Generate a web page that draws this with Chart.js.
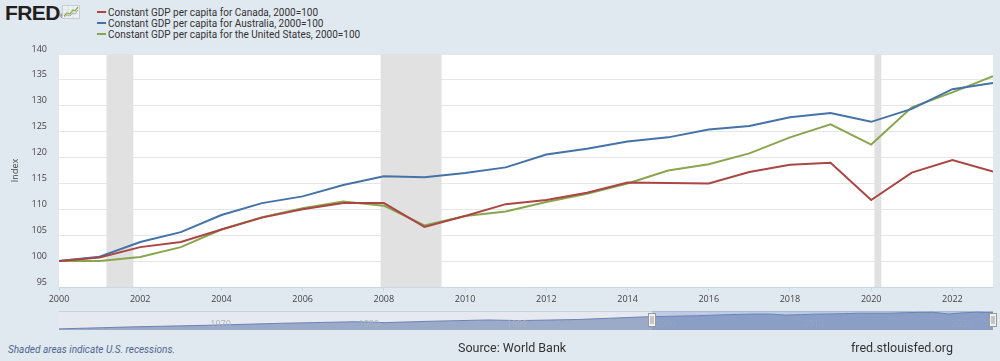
<!DOCTYPE html>
<html lang="en">
  <head>
    <meta charset="utf-8" />
    <title>FRED GDP per capita</title>
    <style>
      * {
        margin: 0;
        padding: 0;
      }
      body {
        width: 1000px;
        height: 361px;
        overflow: hidden;
        background: #e1e9f0;
        position: relative;
        font-family: "Open Sans", sans-serif;
      }
      #logo {
        position: absolute;
        left: 5px;
        top: 1px;
        font-family: "Liberation Sans", sans-serif;
        font-weight: bold;
        font-size: 21px;
        letter-spacing: -0.6px;
        color: #231f20;
      }
      #logo sup {
        font-size: 5px;
        font-weight: normal;
        vertical-align: 2px;
      }
      #logoIcon {
        position: absolute;
        left: 62px;
        top: 5px;
      }
      #legend {
        position: absolute;
        left: 97px;
        top: 7px;
        font-family: Roboto, sans-serif;
        font-size: 10px;
        color: #333;
      }
      #legend div {
        height: 11px;
        line-height: 11px;
        white-space: nowrap;
      }
      #legend span.swatch {
        display: inline-block;
        width: 9px;
        height: 2px;
        margin-right: 2px;
        vertical-align: 3px;
      }
      canvas {
        position: absolute;
        left: 0;
      }
      #myChart {
        top: 0;
      }
      #navChart {
        top: 300px;
      }
      .note {
        position: absolute;
        left: 8px;
        top: 344px;
        font-family: Roboto, sans-serif;
        font-style: italic;
        font-size: 10px;
        color: #4f6592;
      }
      .source {
        position: absolute;
        left: 458px;
        top: 340px;
        font-family: Roboto, sans-serif;
        font-size: 12.5px;
        color: #333;
      }
      .site {
        position: absolute;
        left: 851px;
        top: 340px;
        font-family: Roboto, sans-serif;
        font-size: 12.5px;
        color: #333;
      }
    </style>
  </head>
  <body>
    <div id="logo">FRED<sup>®</sup></div>
    <svg id="logoIcon" width="18" height="14" viewBox="0 0 18 14">
      <rect x="0.5" y="0.5" width="17" height="13" fill="#eef0f2" stroke="#c9ccd0" />
      <path d="M1 5h16M1 9h16M6 1v12M11 1v12" stroke="#d6d9dd" stroke-width="0.6" />
      <polyline points="2,11 5,8 8,9 11,5 13,6 16,2" fill="none" stroke="#8bb04b" stroke-width="1.3" />
      <polyline points="2,12 5,10 8,11 11,8 13,9 16,5" fill="none" stroke="#a9adb2" stroke-width="1" />
    </svg>
    <div id="legend"></div>

    <canvas id="myChart" width="1000" height="305"></canvas>
    <canvas id="navChart" width="1000" height="40"></canvas>

    <div class="note">Shaded areas indicate U.S. recessions.</div>
    <div class="source">Source: World Bank</div>
    <div class="site">fred.stlouisfed.org</div>

    <script src="https://cdn.jsdelivr.net/npm/chart.js"></script>
    <script>
      // data block
      const years = [
        2000, 2001, 2002, 2003, 2004, 2005, 2006, 2007, 2008, 2009, 2010, 2011,
        2012, 2013, 2014, 2015, 2016, 2017, 2018, 2019, 2020, 2021, 2022, 2023,
      ];
      const canada = [
        100, 100.7, 102.7, 103.7, 106.1, 108.4, 110.0, 111.2, 111.2, 106.6,
        108.7, 111.0, 111.8, 113.2, 115.2, 115.1, 115.0, 117.2, 118.6, 119.0,
        111.8, 117.1, 119.5, 117.3,
      ];
      const australia = [
        100, 100.85, 103.7, 105.6, 108.9, 111.2, 112.5, 114.7, 116.4, 116.2,
        117.0, 118.1, 120.6, 121.7, 123.1, 123.9, 125.4, 126.1, 127.8, 128.6,
        126.9, 129.4, 133.2, 134.4,
      ];
      const unitedStates = [
        100, 100.0, 100.8, 102.7, 106.1, 108.5, 110.2, 111.5, 110.7, 106.9,
        108.7, 109.6, 111.4, 113.0, 115.0, 117.5, 118.7, 120.8, 123.9, 126.4,
        122.5, 129.7, 132.6, 135.7,
      ];
      const seriesNames = [
        "Constant GDP per capita for Canada, 2000=100",
        "Constant GDP per capita for Australia, 2000=100",
        "Constant GDP per capita for the United States, 2000=100",
      ];
      const seriesColors = ["#aa4643", "#4572a7", "#89a54e"];

      // US recessions (decimal years)
      const recessionStarts = [2001.17, 2007.92, 2020.08];
      const recessionEnds = [2001.83, 2009.42, 2020.25];

      // navigator (long history, earlier years)
      const navEarlyYears = [1960, 1965, 1970, 1975, 1980, 1982, 1985, 1989, 1991, 1995];
      const navEarlyValues = [45, 54, 61, 70, 77, 73, 79, 85, 82, 87];
      const navLabelYears = [1970, 1980, 1990, 2000, 2010, 2020];

      const toPoints = (xs, ys) => xs.map((x, i) => ({ x: x, y: ys[i] }));

      // plugins
      const plotBackground = {
        id: "plotBackground",
        beforeDraw(chart) {
          const { ctx, chartArea: a } = chart;
          ctx.save();
          ctx.fillStyle = "#ffffff";
          ctx.fillRect(a.left, a.top, a.right - a.left, a.bottom - a.top);
          ctx.restore();
        },
      };

      const recessionBands = {
        id: "recessionBands",
        beforeDatasetsDraw(chart) {
          const {
            ctx,
            chartArea: a,
            scales: { x },
          } = chart;
          ctx.save();
          ctx.fillStyle = "#e1e1e1";
          for (let i = 0; i < recessionStarts.length; i++) {
            const x0 = x.getPixelForValue(recessionStarts[i]);
            const x1 = x.getPixelForValue(recessionEnds[i]);
            ctx.fillRect(x0, a.top, x1 - x0, a.bottom - a.top);
          }
          ctx.restore();
        },
      };

      const tickFont = { family: "'Open Sans', sans-serif", size: 9 };

      const config = {
        type: "line",
        data: {
          datasets: [canada, australia, unitedStates].map((vals, i) => ({
            label: seriesNames[i],
            data: toPoints(years, vals),
            borderColor: seriesColors[i],
            backgroundColor: seriesColors[i],
            borderWidth: 2,
            pointRadius: 0,
            tension: 0,
          })),
        },
        options: {
          responsive: false,
          animation: false,
          devicePixelRatio: 1,
          layout: { padding: { top: 54, right: 7, left: 0, bottom: 0 } },
          plugins: {
            legend: { display: false },
            tooltip: { enabled: false },
          },
          scales: {
            x: {
              type: "linear",
              min: 2000,
              max: 2023,
              afterFit: (scale) => {
                scale.height = 18;
              },
              ticks: {
                stepSize: 2,
                includeBounds: false,
                maxRotation: 0,
                padding: 3,
                color: "#444",
                font: tickFont,
                callback: (v) => String(v),
              },
              grid: {
                drawOnChartArea: false,
                drawTicks: true,
                tickLength: 4,
                color: "#ccd6eb",
              },
              border: { color: "#ccd6eb" },
            },
            y: {
              min: 95,
              max: 140,
              afterFit: (scale) => {
                scale.width = 59;
              },
              ticks: {
                stepSize: 5,
                padding: 12,
                labelOffset: -5,
                color: "#444",
                font: tickFont,
              },
              grid: { color: "#e6e6e6", drawTicks: false },
              border: { display: false },
              title: {
                display: true,
                text: "Index",
                color: "#444",
                font: tickFont,
                padding: { top: 10, bottom: 0 },
              },
            },
          },
        },
        plugins: [plotBackground, recessionBands],
      };

      const myChart = new Chart(document.getElementById("myChart"), config);

      // html legend built from the datasets
      const legendBox = document.getElementById("legend");
      myChart.data.datasets.forEach((ds) => {
        const row = document.createElement("div");
        const sw = document.createElement("span");
        sw.className = "swatch";
        sw.style.background = ds.borderColor;
        row.appendChild(sw);
        row.appendChild(document.createTextNode(ds.label));
        legendBox.appendChild(row);
      });

      // navigator
      const navPlugin = {
        id: "navPlugin",
        beforeDatasetsDraw(chart) {
          const { ctx, chartArea: a } = chart;
          ctx.save();
          ctx.fillStyle = "#e6eaf0";
          ctx.fillRect(a.left, a.top, a.right - a.left, a.bottom - a.top);
          ctx.strokeStyle = "#c8d0dc";
          ctx.lineWidth = 1;
          ctx.beginPath();
          ctx.moveTo(a.left, a.top + 0.5);
          ctx.lineTo(a.right, a.top + 0.5);
          ctx.stroke();
          ctx.restore();
        },
        afterDatasetsDraw(chart) {
          const {
            ctx,
            chartArea: a,
            scales: { x },
          } = chart;
          ctx.save();
          // labels
          ctx.fillStyle = "#a9b2c0";
          ctx.font = "9px 'Open Sans', sans-serif";
          ctx.textBaseline = "middle";
          navLabelYears.forEach((yr) => {
            ctx.fillText(String(yr), x.getPixelForValue(yr) + 3, a.top + 13);
          });
          // selected range mask
          const s0 = x.getPixelForValue(years[0]);
          const s1 = x.getPixelForValue(years[years.length - 1]);
          ctx.fillStyle = "rgba(102, 133, 194, 0.3)";
          ctx.fillRect(s0, a.top, s1 - s0, a.bottom - a.top);
          // handles
          [s0, s1].forEach((hx) => {
            const px = Math.round(hx) - 3.5;
            ctx.fillStyle = "#f2f2f2";
            ctx.strokeStyle = "#999";
            ctx.fillRect(px, a.top + 2.5, 7, 13);
            ctx.strokeRect(px, a.top + 2.5, 7, 13);
            ctx.beginPath();
            ctx.moveTo(px + 2.5, a.top + 5);
            ctx.lineTo(px + 2.5, a.top + 13);
            ctx.moveTo(px + 4.5, a.top + 5);
            ctx.lineTo(px + 4.5, a.top + 13);
            ctx.stroke();
          });
          ctx.restore();
        },
      };

      const navChart = new Chart(document.getElementById("navChart"), {
        type: "line",
        data: {
          datasets: [
            {
              data: toPoints(navEarlyYears, navEarlyValues).concat(
                toPoints(years, canada)
              ),
              borderColor: "#6d84b4",
              backgroundColor: "#9aaac8",
              borderWidth: 1,
              pointRadius: 0,
              fill: "start",
            },
          ],
        },
        options: {
          responsive: false,
          animation: false,
          devicePixelRatio: 1,
          layout: { padding: { top: 11, right: 7, left: 59, bottom: 10 } },
          plugins: { legend: { display: false }, tooltip: { enabled: false } },
          scales: {
            x: { type: "linear", min: 1960, max: 2023, display: false },
            y: { min: 40, max: 125, display: false },
          },
        },
        plugins: [navPlugin],
      });
    </script>
  </body>
</html>
